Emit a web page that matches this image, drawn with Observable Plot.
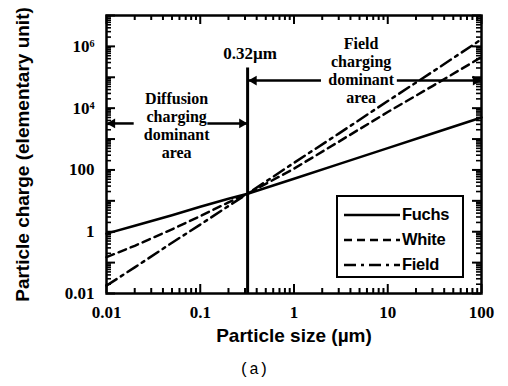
<!DOCTYPE html>
<html>
<head>
<meta charset="utf-8">
<script src="https://cdn.jsdelivr.net/npm/d3@7"></script>
<script src="https://cdn.jsdelivr.net/npm/@observablehq/plot@0.6"></script>
<style>
  body { margin: 0; background: #fff; width: 508px; height: 386px; overflow: hidden; position: relative; }
  #chart { position: absolute; left: 0; top: 0; }
  #caption { position: absolute; left: 0; top: 360px; width: 508px; text-align: center;
             font: 16px "Liberation Mono", "DejaVu Sans Mono", monospace; line-height: 20px; }
  #legend { position: absolute; left: 336px; top: 195px; width: 128px; height: 83px;
            border: 2.5px solid #000; background: #fff; box-sizing: border-box; padding-top: 5px; }
  #legend .row { height: 25px; display: flex; align-items: center; padding-left: 6px; }
  #legend .row span { font: bold 16.5px "Liberation Sans", Arial, sans-serif; margin-left: 2px; letter-spacing: -0.3px; }
</style>
</head>
<body>
<div id="chart"></div>
<div id="legend"></div>
<div id="caption">(a)</div>
<script>
// ---- data ----
const sizes = [0.01, 0.02, 0.05, 0.1, 0.2, 0.32, 1, 3, 10, 30, 100];
const fuchs = [0.87, 1.56, 3.4, 6.4, 11.7, 17, 52, 155, 510, 1520, 5000];
const white = [0.15, 0.35, 1.2, 3.2, 8.9, 17, 110, 820, 7500, 52000, 450000];
const field = [0.018, 0.07, 0.44, 1.7, 6.8, 17, 170, 1500, 17000, 150000, 1700000];
const seriesNames = ["Fuchs", "White", "Field"];

const xTickValues = [0.01, 0.1, 1, 10, 100];
const xTickLabels = ["0.01", "0.1", "1", "10", "100"];
const yTickValues = [0.01, 1, 100, 1e4, 1e6];
const yTickLabels = ["0.01", "1", "100", "10\u2074", "10\u2076"];

const xTitle = "Particle size (\u00b5m)";
const yTitle = "Particle charge (elementary unit)";

const dividerSize = 0.32;
const dividerTop = 2e5;
const dividerLabel = "0.32\u00b5m";
const dividerLabelPos = [0.34, 5.9e5];

const regionText = ["Diffusion\ncharging\ndominant\narea", "Field\ncharging\ndominant\narea"];
const regionX = [0.056, 5.2];
const regionY = [2800, 1.65e5];

const arrowFrom = [0.0195, 0.119, 1.94, 12.5];
const arrowTo = [0.0102, 0.315, 0.33, 98];
const arrowY = [3200, 3200, 78000, 78000];

// ---- build tables ----
const dashes = [null, "8,5", "12,5,3,5"];
const seriesValues = [fuchs, white, field];
const rows = seriesNames.flatMap((name, k) =>
  sizes.map((s, i) => ({ series: name, size: s, q: seriesValues[k][i] })));
const regions = regionText.map((t, i) => ({ t, x: regionX[i], y: regionY[i] }));
const arrows = arrowFrom.map((a, i) => ({ x1: a, x2: arrowTo[i], y: arrowY[i] }));
const arrowsRight = arrows.filter(a => a.x2 > a.x1);
const arrowsLeft = arrows.filter(a => a.x2 < a.x1);

function decadeTicks(lo, hi) {
  const major = [], minor = [];
  for (let e = lo; e <= hi; e++) {
    major.push(Math.pow(10, e));
    if (e < hi) for (let k = 2; k <= 9; k++) minor.push(k * Math.pow(10, e));
  }
  return { major, minor };
}
const xt = decadeTicks(-2, 2);
const yt = decadeTicks(-2, 7);

const W = 508, H = 355, mL = 106, mR = 27, mT = 15, mB = 62;
const pw = W - mL - mR, ph = H - mT - mB;
const serif = "'Liberation Serif', 'Times New Roman', serif";
const sans = "'Liberation Sans', Arial, sans-serif";

const chart = Plot.plot({
  width: W, height: H,
  marginLeft: mL, marginRight: mR, marginTop: mT, marginBottom: mB,
  style: { background: "white", color: "black", overflow: "visible" },
  x: { type: "log", domain: [0.01, 100] },
  y: { type: "log", domain: [0.01, 1e7] },
  marks: [
    // inward ticks on all four sides
    Plot.ruleX(xt.major, { x: d => d, insetTop: ph - 9, strokeWidth: 2 }),
    Plot.ruleX(xt.minor, { x: d => d, insetTop: ph - 5, strokeWidth: 2 }),
    Plot.ruleX(xt.major, { x: d => d, insetBottom: ph - 9, strokeWidth: 2 }),
    Plot.ruleX(xt.minor, { x: d => d, insetBottom: ph - 5, strokeWidth: 2 }),
    Plot.ruleY(yt.major, { y: d => d, insetRight: pw - 9, strokeWidth: 2 }),
    Plot.ruleY(yt.minor, { y: d => d, insetRight: pw - 5, strokeWidth: 1.6 }),
    Plot.ruleY(yt.major, { y: d => d, insetLeft: pw - 9, strokeWidth: 2 }),
    Plot.ruleY(yt.minor, { y: d => d, insetLeft: pw - 5, strokeWidth: 1.6 }),
    Plot.axisX({ ticks: xTickValues, tickFormat: d => xTickLabels[xTickValues.indexOf(d)],
      tickSize: 0, tickPadding: 12, fontSize: 17, fontWeight: "bold", fontFamily: serif, label: null }),
    Plot.axisY({ ticks: yTickValues, tickFormat: d => yTickLabels[yTickValues.indexOf(d)],
      tickSize: 0, tickPadding: 12, fontSize: 17, fontWeight: "bold", fontFamily: serif, label: null }),
    Plot.text([xTitle], { frameAnchor: "bottom", dy: 42, lineAnchor: "middle", fontSize: 19,
      fontWeight: "bold", fontFamily: sans }),
    Plot.text([yTitle], { frameAnchor: "left", rotate: -90, dx: -84, textAnchor: "middle",
      lineAnchor: "middle", fontSize: 19, fontWeight: "bold", fontFamily: sans }),
    // curves
    ...seriesNames.map((name, k) => Plot.line(rows.filter(r => r.series === name), {
      x: "size", y: "q", stroke: "black", strokeWidth: 2.5, strokeDasharray: dashes[k]
    })),
    // divider
    Plot.ruleX([dividerSize], { y1: 0.01, y2: dividerTop, strokeWidth: 3 }),
    Plot.text([dividerLabel], { x: dividerLabelPos[0], y: dividerLabelPos[1], fontSize: 17,
      fontWeight: "bold", fontFamily: serif }),
    // region annotations
    Plot.text(regions, { x: "x", y: "y", text: "t", fontSize: 16, lineHeight: 1.12,
      fontWeight: "bold", fontFamily: serif }),
    Plot.link(arrows, { x1: "x1", x2: "x2", y1: "y", y2: "y", strokeWidth: 2.5 }),
    Plot.dot(arrowsRight, { x: "x2", y: "y", symbol: "triangle", rotate: 90, r: 3.6,
      fill: "black", stroke: null, dx: -5 }),
    Plot.dot(arrowsLeft, { x: "x2", y: "y", symbol: "triangle", rotate: -90, r: 3.6,
      fill: "black", stroke: null, dx: 5 }),
    Plot.frame({ strokeWidth: 2.5 })
  ]
});
document.getElementById("chart").appendChild(chart);

// legend
const legend = document.getElementById("legend");
seriesNames.forEach((name, k) => {
  const row = document.createElement("div");
  row.className = "row";
  const dash = dashes[k] ? ` stroke-dasharray="${dashes[k]}"` : "";
  row.innerHTML = `<svg width="56" height="8"><line x1="0" y1="4" x2="56" y2="4" stroke="black" stroke-width="2.5"${dash}/></svg><span>${name}</span>`;
  legend.appendChild(row);
});
</script>
</body>
</html>
